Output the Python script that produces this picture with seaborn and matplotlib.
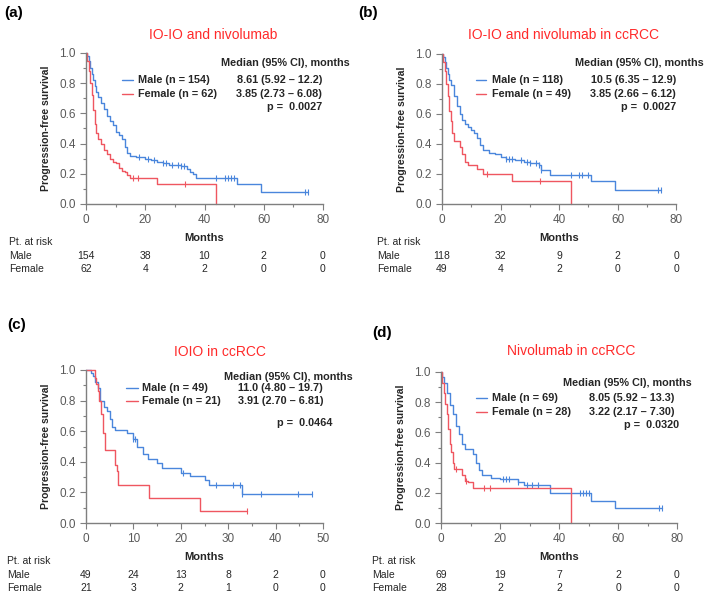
import numpy as np
import pandas as pd
import seaborn as sns
import matplotlib.pyplot as plt
from matplotlib.ticker import MultipleLocator

# ---- data ----
# (a) IO-IO and nivolumab
a_male_t = [0, 0.5, 1, 1.5, 2, 2.5, 3, 3.5, 4, 5, 6, 7, 8, 9, 10, 11, 12, 13, 14, 15, 17, 20, 22, 24, 26, 28, 32, 34, 35, 36, 37, 51, 59, 75]
a_male_s = [1.0, 0.98, 0.95, 0.9, 0.86, 0.82, 0.78, 0.74, 0.71, 0.67, 0.63, 0.58, 0.55, 0.52, 0.48, 0.46, 0.43, 0.38, 0.34, 0.32, 0.31, 0.30, 0.29, 0.28, 0.27, 0.26, 0.25, 0.23, 0.21, 0.20, 0.17, 0.135, 0.08, 0.08]
a_male_cens = [18, 21, 23, 26, 27, 29, 31, 32, 33, 44, 47, 48, 49, 50, 74, 75]
a_fem_t = [0, 0.5, 1, 1.5, 2, 2.5, 3, 3.5, 4, 5, 6, 7, 8, 9, 10, 11, 12, 13, 14, 15, 24, 44, 44]
a_fem_s = [1.0, 0.95, 0.88, 0.8, 0.72, 0.62, 0.53, 0.47, 0.43, 0.40, 0.36, 0.33, 0.30, 0.28, 0.27, 0.24, 0.22, 0.21, 0.19, 0.17, 0.13, 0.13, 0.0]
a_fem_cens = [16, 17.5, 33.5]

# (b) IO-IO and nivolumab in ccRCC
b_male_t = [0, 0.5, 1, 1.5, 2, 2.5, 3, 4, 5, 6, 7, 8, 9, 10, 11, 12, 13, 14, 16, 18, 20, 22, 25, 28, 30, 33, 34, 37, 51, 59, 75]
b_male_s = [1.0, 0.98, 0.95, 0.91, 0.87, 0.83, 0.79, 0.72, 0.65, 0.60, 0.56, 0.53, 0.51, 0.49, 0.47, 0.44, 0.39, 0.36, 0.34, 0.33, 0.31, 0.30, 0.29, 0.28, 0.27, 0.26, 0.225, 0.19, 0.15, 0.09, 0.09]
b_male_cens = [22, 23, 24, 27, 29, 30, 32, 33, 34, 44, 47, 48, 50, 74, 75]
b_fem_t = [0, 0.5, 1, 1.5, 2, 2.5, 3, 3.5, 4, 6, 7, 8, 9, 12, 14, 24, 44, 44]
b_fem_s = [1.0, 0.95, 0.89, 0.80, 0.72, 0.62, 0.55, 0.47, 0.42, 0.38, 0.33, 0.28, 0.26, 0.23, 0.20, 0.15, 0.15, 0.0]
b_fem_cens = [15.5, 33.5]

# (c) IOIO in ccRCC
c_male_t = [0, 1, 1.5, 2, 2.5, 3, 3.7, 4.4, 5, 5.4, 6.1, 8.6, 10, 10.7, 12, 13, 15, 16, 20, 22, 25, 26, 33, 47.7]
c_male_s = [1.0, 0.98, 0.96, 0.92, 0.88, 0.80, 0.76, 0.73, 0.68, 0.63, 0.61, 0.59, 0.55, 0.50, 0.45, 0.42, 0.39, 0.36, 0.33, 0.31, 0.28, 0.25, 0.19, 0.19]
c_male_cens = [10, 10.3, 20.5, 27.5, 31, 32.5, 33, 37, 44.7, 47.7]
c_fem_t = [0, 1.9, 2.2, 2.5, 2.8, 3.1, 3.5, 4, 6.2, 6.5, 6.8, 13.3, 24, 34]
c_fem_s = [1.0, 0.95, 0.91, 0.86, 0.80, 0.71, 0.59, 0.48, 0.38, 0.34, 0.25, 0.165, 0.08, 0.08]
c_fem_cens = [34]

# (d) Nivolumab in ccRCC
d_male_t = [0, 0.5, 1, 2, 3, 4, 5, 6, 7, 8, 11, 12, 13, 14, 17, 20, 26, 28, 37, 51, 59, 75]
d_male_s = [1.0, 0.97, 0.93, 0.86, 0.78, 0.72, 0.64, 0.59, 0.52, 0.49, 0.46, 0.40, 0.35, 0.32, 0.30, 0.29, 0.27, 0.25, 0.20, 0.145, 0.10, 0.10]
d_male_cens = [21, 22, 23, 26, 29, 31, 33, 47, 48, 49, 50, 74, 75]
d_fem_t = [0, 0.5, 1, 1.5, 2, 2.5, 3, 3.5, 4, 4.5, 7, 8, 9, 11, 44, 44]
d_fem_s = [1.0, 0.93, 0.86, 0.79, 0.72, 0.62, 0.52, 0.47, 0.40, 0.36, 0.32, 0.28, 0.27, 0.23, 0.23, 0.0]
d_fem_cens = [5, 8.5, 14.5, 16.5]

titles = ['IO-IO and nivolumab', 'IO-IO and nivolumab in ccRCC', 'IOIO in ccRCC', 'Nivolumab in ccRCC']
panel_tags = ['(a)', '(b)', '(c)', '(d)']
male_labels = ['Male (n = 154)', 'Male (n = 118)', 'Male (n = 49)', 'Male (n = 69)']
female_labels = ['Female (n = 62)', 'Female (n = 49)', 'Female (n = 21)', 'Female (n = 28)']
male_medians = ['8.61 (5.92 \u2013 12.2)', '10.5 (6.35 \u2013 12.9)', '11.0 (4.80 \u2013 19.7)', '8.05 (5.92 \u2013 13.3)']
female_medians = ['3.85 (2.73 \u2013 6.08)', '3.85 (2.66 \u2013 6.12)', '3.91 (2.70 \u2013 6.81)', '3.22 (2.17 \u2013 7.30)']
p_values = ['p =  0.0027', 'p =  0.0027', 'p =  0.0464', 'p =  0.0320']
x_max = [80, 80, 50, 80]
risk_times = [[0, 20, 40, 60, 80], [0, 20, 40, 60, 80], [0, 10, 20, 30, 40, 50], [0, 20, 40, 60, 80]]
risk_male = [[154, 38, 10, 2, 0], [118, 32, 9, 2, 0], [49, 24, 13, 8, 2, 0], [69, 19, 7, 2, 0]]
risk_female = [[62, 4, 2, 0, 0], [49, 4, 2, 0, 0], [21, 3, 2, 1, 0, 0], [28, 2, 2, 0, 0]]

curves = [
    (a_male_t, a_male_s, a_male_cens, a_fem_t, a_fem_s, a_fem_cens),
    (b_male_t, b_male_s, b_male_cens, b_fem_t, b_fem_s, b_fem_cens),
    (c_male_t, c_male_s, c_male_cens, c_fem_t, c_fem_s, c_fem_cens),
    (d_male_t, d_male_s, d_male_cens, d_fem_t, d_fem_s, d_fem_cens),
]

BLUE = '#4a86dc'
RED = '#ef5660'
TITLE_RED = '#ff2a2a'
GREY = '#7f7f7f'
TXT = '#262626'

sns.set_style('ticks')
plt.rcParams['font.family'] = ['Liberation Sans', 'DejaVu Sans']

fig = plt.figure(figsize=(7.08, 5.97), dpi=100)
W, H = 708, 597

# axes boxes in pixels: left, right, top, bottom
boxes = [(86, 323, 53, 204), (442, 676, 54, 204), (86, 323, 370, 523), (441, 677, 372, 523)]
# legend layout in axes fraction: header (x, y), line x0, x1, male y, female y, label x, value x, p (x, y)
leg = [
    (1.114, 0.934, 0.152, 0.198, 0.821, 0.728, 0.219, 0.996, 0.996, 0.642),
    (1.12, 0.94, 0.145, 0.19, 0.827, 0.733, 0.214, 1.0, 1.0, 0.647),
    (1.127, 0.952, 0.169, 0.22, 0.882, 0.800, 0.236, 1.0, 1.04, 0.654),
    (1.063, 0.927, 0.148, 0.195, 0.828, 0.735, 0.216, 0.99, 1.01, 0.651),
]
tag_pos = [(4, 13), (358, 13), (7, 325), (372, 333)]
title_pos = [(213, 35), (563, 35), (220, 352), (571, 351)]
risk_left = [9, 377, 7, 372]


def step_value(t, s, x):
    idx = np.searchsorted(t, x, side='right') - 1
    return s[max(idx, 0)]


for i in range(4):
    l, r, top, bot = boxes[i]
    ax = fig.add_axes([l / W, 1 - bot / H, (r - l) / W, (bot - top) / H])
    mt, ms, mc, ft, fs, fc = curves[i]

    df_m = pd.DataFrame({'t': mt, 's': ms})
    df_f = pd.DataFrame({'t': ft, 's': fs})
    sns.lineplot(data=df_m, x='t', y='s', ax=ax, color=BLUE, lw=1.0, drawstyle='steps-post',
                 estimator=None, sort=False, legend=False, clip_on=False)
    sns.lineplot(data=df_f, x='t', y='s', ax=ax, color=RED, lw=1.0, drawstyle='steps-post',
                 estimator=None, sort=False, legend=False, clip_on=False)

    # censoring marks
    cm = pd.DataFrame({'t': mc, 's': [step_value(mt, ms, x) for x in mc]})
    cf = pd.DataFrame({'t': fc, 's': [step_value(ft, fs, x) for x in fc]})
    sns.scatterplot(data=cm, x='t', y='s', ax=ax, marker='|', color=BLUE, s=18, linewidth=0.8, legend=False)
    sns.scatterplot(data=cf, x='t', y='s', ax=ax, marker='|', color=RED, s=18, linewidth=0.8, legend=False)

    ax.set_xlim(0, x_max[i])
    ax.set_ylim(0, 1.0)
    step = 20 if x_max[i] == 80 else 10
    ax.xaxis.set_major_locator(MultipleLocator(step))
    ax.xaxis.set_minor_locator(MultipleLocator(step / 2))
    ax.yaxis.set_major_locator(MultipleLocator(0.2))
    ax.yaxis.set_minor_locator(MultipleLocator(0.1))
    ax.yaxis.set_major_formatter(plt.FormatStrFormatter('%.1f'))
    sns.despine(ax=ax)
    for sp in ['left', 'bottom']:
        ax.spines[sp].set_color(GREY)
        ax.spines[sp].set_linewidth(1.0)
    ax.tick_params(which='both', colors=GREY, labelcolor='#5a5a5a', labelsize=8.5, width=0.8)
    ax.tick_params(which='major', length=4)
    ax.tick_params(which='minor', length=2.5)
    ax.set_xlabel('Months', fontsize=8, fontweight='bold', color=TXT, labelpad=5)
    ax.set_ylabel('Progression-free survival', fontsize=7.5, fontweight='bold', color=TXT, labelpad=6)

    # legend block
    hx, hy, lx0, lx1, my, fy, labx, valx, px, py = leg[i]
    ax.text(hx, hy, 'Median (95% CI), months', transform=ax.transAxes, ha='right', va='center',
            fontsize=7.8, fontweight='bold', color=TXT)
    ax.plot([lx0, lx1], [my, my], transform=ax.transAxes, color=BLUE, lw=1.0, clip_on=False)
    ax.plot([lx0, lx1], [fy, fy], transform=ax.transAxes, color=RED, lw=1.0, clip_on=False)
    ax.text(labx, my, male_labels[i], transform=ax.transAxes, ha='left', va='center',
            fontsize=7.8, fontweight='bold', color=TXT)
    ax.text(labx, fy, female_labels[i], transform=ax.transAxes, ha='left', va='center',
            fontsize=7.8, fontweight='bold', color=TXT)
    ax.text(valx, my, male_medians[i], transform=ax.transAxes, ha='right', va='center',
            fontsize=7.8, fontweight='bold', color=TXT)
    ax.text(valx, fy, female_medians[i], transform=ax.transAxes, ha='right', va='center',
            fontsize=7.8, fontweight='bold', color=TXT)
    ax.text(px, py, p_values[i], transform=ax.transAxes, ha='right', va='center',
            fontsize=7.8, fontweight='bold', color=TXT)

    # panel tag and title
    fig.text(tag_pos[i][0] / W, 1 - tag_pos[i][1] / H, panel_tags[i], ha='left', va='center',
             fontsize=11, fontweight='bold', color='black')
    fig.text(title_pos[i][0] / W, 1 - title_pos[i][1] / H, titles[i], ha='center', va='center',
             fontsize=10, color=TITLE_RED)

    # number at risk table
    trans = ax.get_xaxis_transform()
    row_px = [bot + 38, bot + 52, bot + 65]
    fig.text(risk_left[i] / W, 1 - row_px[0] / H, 'Pt. at risk', ha='left', va='center', fontsize=7.5, color=TXT)
    fig.text(risk_left[i] / W, 1 - row_px[1] / H, 'Male', ha='left', va='center', fontsize=7.5, color=TXT)
    fig.text(risk_left[i] / W, 1 - row_px[2] / H, 'Female', ha='left', va='center', fontsize=7.5, color=TXT)
    h_ax = bot - top
    for tt, nm, nf in zip(risk_times[i], risk_male[i], risk_female[i]):
        ax.text(tt, -(row_px[1] - bot) / h_ax, str(nm), transform=trans, ha='center', va='center',
                fontsize=7.5, color=TXT, clip_on=False)
        ax.text(tt, -(row_px[2] - bot) / h_ax, str(nf), transform=trans, ha='center', va='center',
                fontsize=7.5, color=TXT, clip_on=False)

fig.savefig('out.png', dpi=100, facecolor='white')
